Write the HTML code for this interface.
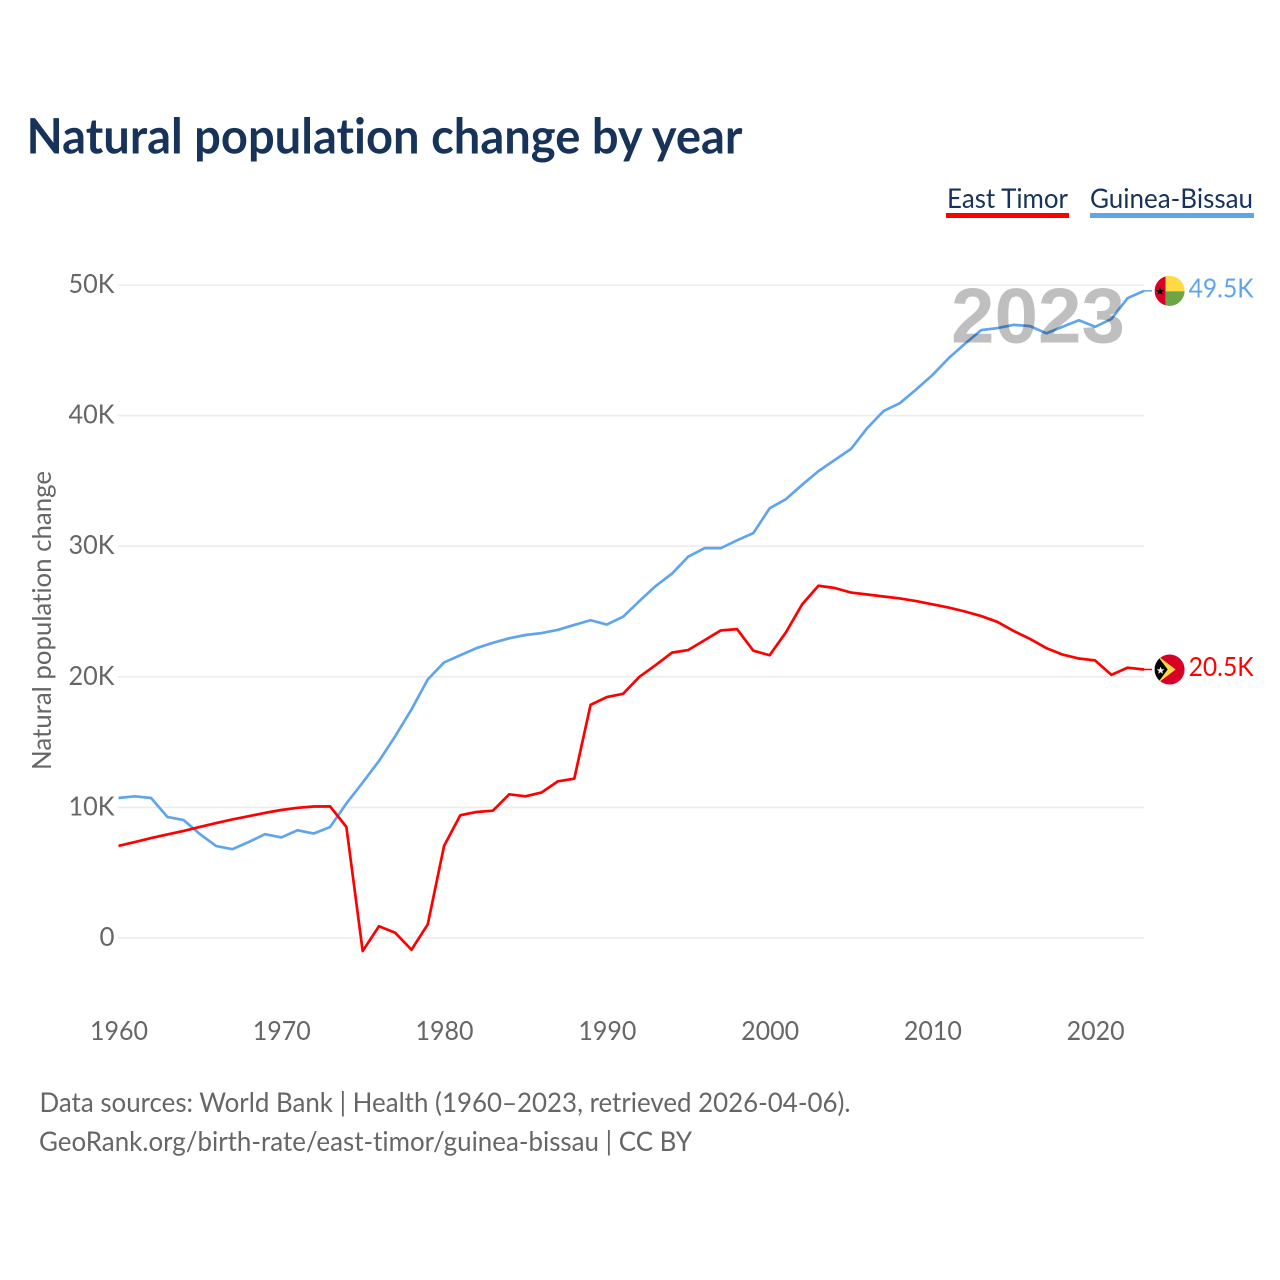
<!DOCTYPE html>
<html lang="en">
<head>
<meta charset="utf-8">
<title>Natural population change by year</title>
<style>
html,body{margin:0;padding:0;background:#fff;}
svg{display:block;}
text{font-family:"Lato","Carlito","Liberation Sans",sans-serif;font-variant-ligatures:none;font-feature-settings:"liga" 0,"clig" 0;}
</style>
</head>
<body>
<svg id="chart" xmlns="http://www.w3.org/2000/svg" width="1280" height="1280" viewBox="0 0 1280 1280">
  <defs>
    <clipPath id="flag-clip"><circle cx="0" cy="0" r="15"/></clipPath>
  </defs>
  <text x="26.5" y="153.5" font-size="49" font-weight="700" fill="#17335a" textLength="716" lengthAdjust="spacingAndGlyphs">Natural population change by year</text>

  <g>
    <g>
      <text x="947" y="208" font-size="27.5" fill="#17335a" textLength="121" lengthAdjust="spacingAndGlyphs">East Timor</text>
      <rect x="946" y="213" width="123" height="5" fill="#ff0000"/>
    </g>
    <g>
      <text x="1090" y="208" font-size="27.5" fill="#17335a" textLength="163" lengthAdjust="spacingAndGlyphs">Guinea-Bissau</text>
      <rect x="1090" y="213" width="164" height="5" fill="#60a5ec"/>
    </g>
  </g>

  <text transform="translate(51,770) rotate(-90)" font-size="26.5" fill="#666666" textLength="299" lengthAdjust="spacingAndGlyphs">Natural population change</text>

  <g id="grid"></g>
  <g id="y-axis"></g>
  <g id="x-axis"></g>
  <g id="series"></g>

  <text x="951" y="342.5" font-size="78" font-weight="700" fill="#000000" fill-opacity="0.25" textLength="174" lengthAdjust="spacingAndGlyphs" style="font-family:'Liberation Sans',sans-serif">2023</text>

  <g id="end-guinea">
    <g clip-path="url(#flag-clip)">
      <rect x="-15" y="-15" width="11" height="30" fill="#d80027"/>
      <rect x="-4" y="-15" width="19" height="15.4" fill="#ffda44"/>
      <rect x="-4" y="0.4" width="19" height="15" fill="#6da544"/>
      <polygon points="-9.6,-3.6 -8.4,-0.9 -5.6,-0.9 -7.8,1 -7,3.8 -9.6,2.2 -12.2,3.8 -11.4,1 -13.6,-0.9 -10.8,-0.9" fill="#000000"/>
    </g>
    <text id="label-guinea" x="19" y="6.5" font-size="26.5" fill="#60a5ec" textLength="65" lengthAdjust="spacingAndGlyphs"></text>
  </g>
  <g id="end-timor">
    <g clip-path="url(#flag-clip)">
      <rect x="-15" y="-15" width="30" height="30" fill="#d80027"/>
      <polygon points="-15,-16 6.1,0 -15,16" fill="#ffda44"/>
      <polygon points="-15,-17.5 -1.9,0 -15,17.5" fill="#000000"/>
      <polygon points="-9,-2.9 -7.9,-0.2 -5.2,-0.2 -7.3,1.6 -6.6,4.3 -9,2.8 -11.4,4.3 -10.7,1.6 -12.8,-0.2 -10.1,-0.2" fill="#f0f0f0"/>
    </g>
    <text id="label-timor" x="19" y="6.5" font-size="26.5" fill="#ff0000" textLength="65" lengthAdjust="spacingAndGlyphs"></text>
  </g>

  <text x="39.5" y="1112" font-size="27.5" fill="#666666" textLength="811" lengthAdjust="spacingAndGlyphs">Data sources: World Bank | Health (1960–2023, retrieved 2026-04-06).</text>
  <text x="39" y="1151" font-size="27.5" fill="#666666" textLength="653" lengthAdjust="spacingAndGlyphs">GeoRank.org/birth-rate/east-timor/guinea-bissau | CC BY</text>
</svg>
<script>
var startYear = 1960;
var eastTimor = [7.05,7.35,7.65,7.93,8.2,8.5,8.8,9.08,9.33,9.58,9.8,9.97,10.07,10.08,8.5,-1.0,0.9,0.4,-0.9,1.05,7.05,9.4,9.65,9.75,11.0,10.85,11.15,12.0,12.2,17.85,18.45,18.7,20.0,20.9,21.85,22.05,22.8,23.55,23.65,22.0,21.65,23.4,25.55,26.97,26.8,26.45,26.3,26.15,26.0,25.8,25.55,25.3,25.0,24.65,24.2,23.5,22.9,22.2,21.7,21.4,21.25,20.15,20.7,20.56];
var guineaBissau = [10.72,10.85,10.72,9.27,9.03,7.96,7.04,6.8,7.35,7.95,7.7,8.25,8.0,8.5,10.3,11.9,13.55,15.45,17.5,19.8,21.1,21.65,22.2,22.6,22.95,23.2,23.35,23.6,23.97,24.33,24.0,24.6,25.8,26.95,27.9,29.2,29.85,29.85,30.45,31.0,32.9,33.6,34.7,35.75,36.6,37.45,39.05,40.35,40.95,42.0,43.1,44.4,45.5,46.55,46.7,46.95,46.85,46.3,46.8,47.3,46.8,47.4,49.0,49.55];
var xTickYears = [1960,1970,1980,1990,2000,2010,2020];
var yTickValues = [0,10,20,30,40,50];
var yTickLabels = ['0','10K','20K','30K','40K','50K'];
var endLabelGuinea = '49.5K';
var endLabelTimor = '20.5K';

var NS = 'http://www.w3.org/2000/svg';
function xScale(year){ return 118.5 + (year - 1960) * (1144 - 118.5) / 63; }
function yScale(v){ return 938 - v * 13.06; }
function make(tag, parent){
  var el = document.createElementNS(NS, tag);
  parent.appendChild(el);
  return el;
}

var grid = document.getElementById('grid');
var yAxis = document.getElementById('y-axis');
var xAxis = document.getElementById('x-axis');
var series = document.getElementById('series');

yTickValues.forEach(function(v, i){
  var line = make('line', grid);
  
  
  line.setAttribute('x1', 118);
  line.setAttribute('x2', 1144);
  line.setAttribute('y1', yScale(v));
  line.setAttribute('y2', yScale(v));
  line.setAttribute('stroke', '#ececec');
  line.setAttribute('stroke-width', 1.6);

  var label = make('text', yAxis);
  
  
  label.setAttribute('x', 114.5);
  label.setAttribute('y', yScale(v) + 8);
  label.setAttribute('text-anchor', 'end');
  label.setAttribute('font-size', 26.5);
  label.setAttribute('fill', '#666666');
  label.setAttribute('textLength', yTickLabels[i].length === 1 ? 15 : 46);
  label.setAttribute('lengthAdjust', 'spacingAndGlyphs');
  label.textContent = yTickLabels[i];
});

xTickYears.forEach(function(year){
  var label = make('text', xAxis);
  
  
  label.setAttribute('x', xScale(year) + 0.5);
  label.setAttribute('y', 1040);
  label.setAttribute('text-anchor', 'middle');
  label.setAttribute('font-size', 26.5);
  label.setAttribute('fill', '#666666');
  label.setAttribute('textLength', 58);
  label.setAttribute('lengthAdjust', 'spacingAndGlyphs');
  label.textContent = year;
});

function pathFor(values){
  return values.map(function(v, i){
    return (i ? 'L' : 'M') + xScale(startYear + i).toFixed(2) + ' ' + yScale(v).toFixed(2);
  }).join(' ');
}
function lastPoint(values){
  return { x: xScale(startYear + values.length - 1), y: yScale(values[values.length - 1]) };
}
function connector(values, color, name){
  var p = lastPoint(values);
  var c = make('line', series);
  
  
  c.setAttribute('x1', p.x);
  c.setAttribute('y1', p.y);
  c.setAttribute('x2', 1152);
  c.setAttribute('y2', p.y);
  c.setAttribute('stroke', color);
  c.setAttribute('stroke-width', 1.5);
}

var guineaLine = make('path', series);


guineaLine.setAttribute('d', pathFor(guineaBissau));
guineaLine.setAttribute('fill', 'none');
guineaLine.setAttribute('stroke', '#60a5ec');
guineaLine.setAttribute('stroke-width', 2.7);
guineaLine.setAttribute('stroke-linejoin', 'round');

var timorLine = make('path', series);


timorLine.setAttribute('d', pathFor(eastTimor));
timorLine.setAttribute('fill', 'none');
timorLine.setAttribute('stroke', '#ff0000');
timorLine.setAttribute('stroke-width', 2.7);
timorLine.setAttribute('stroke-linejoin', 'round');

connector(guineaBissau, '#60a5ec', 'connector-guinea-bissau');
connector(eastTimor, '#ff0000', 'connector-east-timor');

document.getElementById('end-guinea').setAttribute('transform', 'translate(1169.6,' + lastPoint(guineaBissau).y + ')');
document.getElementById('end-timor').setAttribute('transform', 'translate(1169.6,' + lastPoint(eastTimor).y + ')');
document.getElementById('label-guinea').textContent = endLabelGuinea;
document.getElementById('label-timor').textContent = endLabelTimor;
</script>
</body>
</html>
